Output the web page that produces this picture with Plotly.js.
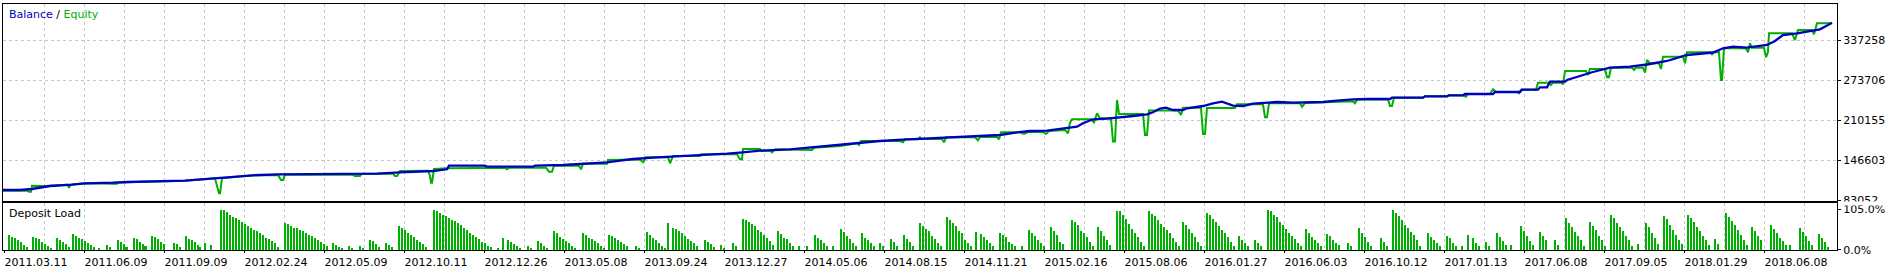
<!DOCTYPE html>
<html><head><meta charset="utf-8">
<script src="https://cdn.plot.ly/plotly-3.0.1.min.js"></script>
<style>html,body{margin:0;padding:0;background:#fff;overflow:hidden}#chart{width:1889px;height:267px}</style>
</head><body><div id="chart"></div>
<script>
// deal index (x position along the test) and account values
const balanceDeal = [3,20,32,42,50,72,85,113,128,185,198,220,237,253,277,353,377,400,433,447,449,485,487,533,535,563,583,607,620,633,653,687,713,727,743,760,790,807,827,840,860,880,903,920,945,1000,1017,1030,1047,1063,1077,1083,1093,1107,1120,1133,1147,1153,1160,1166,1173,1183,1187,1203,1213,1222,1233,1243,1253,1267,1277,1293,1307,1323,1337,1353,1367,1390,1392,1423,1425,1447,1449,1463,1465,1493,1495,1520,1522,1538,1540,1547,1550,1565,1567,1573,1593,1610,1630,1647,1667,1687,1713,1723,1733,1747,1767,1775,1783,1797,1807,1820,1828,1832];
const balanceValue = [99734,99734,101323,103389,106090,108155,110379,111333,112445,114510,116099,118323,120865,123090,124679,124679,125632,127856,129922,132623,138342,138342,136753,136753,138342,139454,141520,143744,146286,148987,151053,153754,155342,157408,159632,162174,164399,166941,169642,172343,174885,177586,179651,180763,183464,187118,191408,193474,193950,197763,200305,205707,212063,213016,215717,217306,220007,223184,229222,230493,226838,226838,229539,233194,237483,240025,233670,233194,236848,237960,239549,238437,238437,239549,241614,243839,244315,244315,246381,246381,248605,248605,250194,250194,252259,252259,255437,255437,259091,259091,262904,262904,271801,271801,274502,277680,287213,294045,295633,299129,304690,314222,318194,324867,327409,325821,330110,336466,345998,348699,351559,355055,361886,365541];

const equityDeal = [3,28,29,31,32,42,45,67,69,71,85,113,117,118,131,133,185,198,215,217,219,220,222,237,253,278,281,283,285,353,355,360,362,393,395,397,399,400,428,430,431,432,434,447,505,507,509,546,549,552,554,579,581,583,607,608,640,643,646,668,670,673,700,701,737,740,742,743,760,761,770,772,775,810,812,814,840,857,859,861,900,903,905,918,920,922,942,944,946,975,978,980,997,999,1001,1020,1024,1028,1043,1046,1049,1065,1068,1070,1072,1091,1094,1097,1100,1111,1113,1115,1117,1119,1143,1145,1147,1149,1178,1181,1183,1201,1203,1205,1207,1235,1237,1263,1265,1267,1269,1300,1302,1305,1353,1355,1357,1388,1390,1392,1394,1423,1425,1447,1449,1463,1466,1468,1490,1493,1496,1517,1519,1521,1536,1538,1549,1551,1553,1561,1563,1565,1586,1588,1590,1605,1607,1609,1611,1632,1634,1636,1643,1645,1647,1650,1659,1661,1663,1683,1685,1687,1710,1712,1714,1719,1720,1721,1722,1724,1746,1748,1750,1752,1764,1766,1768,1769,1792,1795,1798,1812,1814,1817,1832];
const equityValue = [98622,98622,97033,97033,106566,106566,106090,108155,104024,108155,110379,109744,109744,111333,111333,112445,114510,116099,118323,106090,94491,94491,118323,120865,123090,123566,115622,115622,123884,123884,121978,121978,125632,125632,121978,121978,127856,129922,130398,121978,111333,111333,133099,134211,135165,132623,135165,135165,128809,128809,138342,138342,132623,141520,141520,147398,148193,143744,151688,151688,142155,153754,153754,156455,156455,148511,148511,164875,164875,162174,162174,159632,164399,164399,163286,166941,169642,173931,171230,177586,177586,175520,180287,180287,183464,180763,180763,175520,183464,183464,178698,183941,183941,180287,191408,191408,188707,191885,191885,188707,193474,195062,189819,206661,212063,212063,207296,221595,213651,213651,176791,176791,242726,220483,220483,187118,187118,226044,226044,218894,230493,230493,188707,188707,230016,230016,235895,235895,215240,215240,237483,237483,232081,237960,240661,237483,243521,243521,233194,233194,246381,246381,248605,248605,250194,250194,247969,252259,252259,259727,255437,255437,253371,259091,259091,270213,270213,266558,270213,270213,267671,288802,288802,282446,291979,291979,278792,278792,294045,294045,290390,294045,294045,286101,306278,301035,301035,291979,311521,311521,301035,318512,318512,315335,318512,318512,298334,274502,274502,324867,324867,318512,332811,325821,325821,310568,318989,348699,348699,338054,353942,353942,347111,364587,364587];

// deposit load: each run starts at a deal index, one bar every 3 deals (percent)
const loadRunStart = [8,32,56,72,98,106,117,125,133,143,151,163,173,185,199,204,210,220,284,332,348,359,369,385,398,433,497,502,507,527,537,553,582,608,635,646,667,672,704,720,732,742,777,798,806,814,832,840,861,879,890,903,919,946,975,980,999,1021,1028,1050,1071,1097,1116,1148,1182,1206,1238,1254,1267,1305,1326,1347,1358,1380,1392,1427,1446,1461,1467,1472,1485,1496,1510,1520,1539,1554,1565,1589,1610,1637,1645,1663,1687,1714,1725,1751,1770,1789,1799,1818];
const loadRunPct = [
 [39,35,30,26,20,13,9],[34,32,28,22,16,10,6],[30,26,20,15,9],[42,37,32,29,24,17,12,7],[5],[12,7],[26,22,15,7],[7],[31,28,21,15,10],[10],
 [36,33,28,22,16],[12],[18,15,8],[36,29,25,21,14],[7],[17],[12],
 [105,103,98,92,85,82,77,73,67,61,57,53,49,44,38,32,28,23,17,9],
 [69,67,62,58,56,51,48,44,40,36,32,27,22,16,10],[18,13,9,5],[10,6],[10,6],[26,23,15,7],[18,14,7],[61,57,51,44,38,34,27,21,15,9],
 [105,102,97,92,87,82,78,75,70,64,58,51,44,40,34,29,22,17,10,7],
 [5],[31],[26,20,15,10,5],[10,5],[23,19,11,4],[49,44,34,29,24,17,10,6],[44,40,32,28,23,17,10,5],[40,36,32,26,20,15,10],[11,5],
 [46,38,32,26,17,10,5],[69],[58,55,49,43,36,29,24,17,10],[26,20,15,9],[12,5],[17,10],
 [81,79,73,67,61,53,47,38,32,24,12],[49,41,32,28,17,10],[10],[10],[40,32,26,19,10],[10],[54,46,36,28,17,10],[44,32,26,17,10],[17,10],[28,20,10],[38,28,20,10],
 [70,62,55,49,37,28,19,10],[85,77,71,61,50,43,26,19,10],[47],[41,34,26,19,10],[44,40,33,21,15,10],[10],[51,43,36,26,19,10],[59,49,38,21,15],
 [79,73,64,49,43,34,21,10],[59,49,37,26,13],[102,102,92,81,68,55,44,34,21,10],[100,94,87,77,68,60,51,43,30,21,10],[72,64,55,43,34,21,10],
 [97,92,80,72,62,53,43,34,21,10],[36,27,19,10],[26,19,10],[105,102,90,85,73,64,55,45,37,28,19,10],[54,45,34,26,17,10],[41,36,27,19,13],[19,10],
 [57,45,34,21,10],[32,21,10],[105,96,87,77,66,57,47,38,26,10],[43,34,27,17,10],[36,30,17,10],[10],[38],[30,19,10],[20,10],[44,34,24,13],[13],
 [61,49,36,24,13],[47,36,26],[26,13],[83,70,60,47,36,26,10],[72,61,51,36,26,10],[92,83,70,60,49,36,26,10],[15],[70,60,43,30,15],
 [87,80,64,51,38,27,15],[92,83,72,60,49,36,26,13],[28,15],[97,85,75,64,51,38,26,13],[59,49,36,26],[64,55,44,32,23,13],[13],[57,47,36,23,13],[42,32,20,9]
];

const dateLabels = ['2011.03.11','2011.06.09','2011.09.09','2012.02.24','2012.05.09','2012.10.11','2012.12.26','2013.05.08','2013.09.24','2013.12.27','2014.05.06','2014.08.15','2014.11.21','2015.02.16','2015.08.06','2016.01.27','2016.06.03','2016.10.12','2017.01.13','2017.06.08','2017.09.05','2018.01.29','2018.06.08'];
const valueTicks = [83052,146603,210155,273706,337258];
const loadTicks = [0,105];
const loadTickText = ['0.0%','105.0%'];

const loadX = [], loadY = [];
loadRunStart.forEach((s, r) => loadRunPct[r].forEach((v, i) => { loadX.push(s + 3 * i); loadY.push(v); }));
const dateTickPos = dateLabels.map((_, i) => 4 + 80 * i);

const BLUE = '#0000C0', GREEN = '#00B000', GRID = '#c8c8c8';
const FONT = {family: 'DejaVu Sans', size: 11, color: '#000'};

const traces = [
  {type: 'scatter', mode: 'lines', x: equityDeal, y: equityValue, line: {color: GREEN, width: 2}, xaxis: 'x', yaxis: 'y', hoverinfo: 'skip'},
  {type: 'scatter', mode: 'lines', x: balanceDeal, y: balanceValue, line: {color: BLUE, width: 2.3}, xaxis: 'x', yaxis: 'y', hoverinfo: 'skip'},
  {type: 'bar', x: loadX, y: loadY, width: 2, offset: 0, marker: {color: GREEN, line: {width: 0}}, xaxis: 'x2', yaxis: 'y2', hoverinfo: 'skip'},
  {type: 'scatter', mode: 'markers', x: [null], y: [null], xaxis: 'x3', yaxis: 'y2', hoverinfo: 'skip'}
];

const gridX = {tickmode: 'linear', tick0: 44, dtick: 40, showgrid: true, gridcolor: GRID, griddash: '3px,3px', gridwidth: 1,
  showticklabels: false, ticks: '', showline: true, linecolor: '#000', linewidth: 1, mirror: true, zeroline: false, range: [3, 1837], fixedrange: true};

const layout = {
  width: 1889, height: 267, margin: {l: 3, r: 52, t: 4, b: 17, pad: 0},
  paper_bgcolor: '#fff', plot_bgcolor: '#fff', showlegend: false, bargap: 0, font: FONT,
  xaxis: Object.assign({}, gridX, {domain: [0, 1], anchor: 'y'}),
  xaxis2: Object.assign({}, gridX, {domain: [0, 1], anchor: 'y2'}),
  xaxis3: {overlaying: 'x2', anchor: 'y2', side: 'bottom', range: [3, 1837], tickmode: 'array', tickvals: dateTickPos, ticktext: dateLabels,
    ticks: 'outside', ticklen: 2, tickcolor: '#000', ticklabelshift: 32, showgrid: false, showline: false, zeroline: false, tickfont: FONT, fixedrange: true},
  yaxis: {domain: [0.2012, 1], anchor: 'x', side: 'right', range: [83052, 395251], tickmode: 'array', tickvals: valueTicks, ticktext: valueTicks.map(String),
    ticks: 'outside', ticklen: 3, tickcolor: '#000', showgrid: true, gridcolor: GRID, griddash: '3px,3px', gridwidth: 1,
    showline: true, linecolor: '#000', linewidth: 1, mirror: true, zeroline: false, tickfont: FONT, fixedrange: true},
  yaxis2: {domain: [0, 0.1911], anchor: 'x2', side: 'right', range: [0, 122], tickmode: 'array', tickvals: loadTicks, ticktext: loadTickText,
    ticks: 'outside', ticklen: 3, tickcolor: '#000', showgrid: false, showline: true, linecolor: '#000', linewidth: 1, mirror: true, zeroline: false, tickfont: FONT, fixedrange: true},
  annotations: [
    {xref: 'paper', yref: 'paper', x: 0.0027, y: 0.957, xanchor: 'left', yanchor: 'middle', showarrow: false, borderpad: 0,
     text: '<span style="color:' + BLUE + '">Balance</span> / <span style="color:' + GREEN + '">Equity</span>', font: FONT},
    {xref: 'paper', yref: 'paper', x: 0.0027, y: 0.1504, xanchor: 'left', yanchor: 'middle', showarrow: false, borderpad: 0,
     text: 'Deposit Load', font: FONT}
  ],
  shapes: [
    {type: 'rect', xref: 'paper', yref: 'paper', x0: 1.0012, x1: 1.0284, y0: 0.1809, y1: 0.1972, fillcolor: '#fff', line: {width: 0}, layer: 'above'}
  ]
};

Plotly.newPlot('chart', traces, layout, {staticPlot: true, displayModeBar: false});
</script>
</body></html>
